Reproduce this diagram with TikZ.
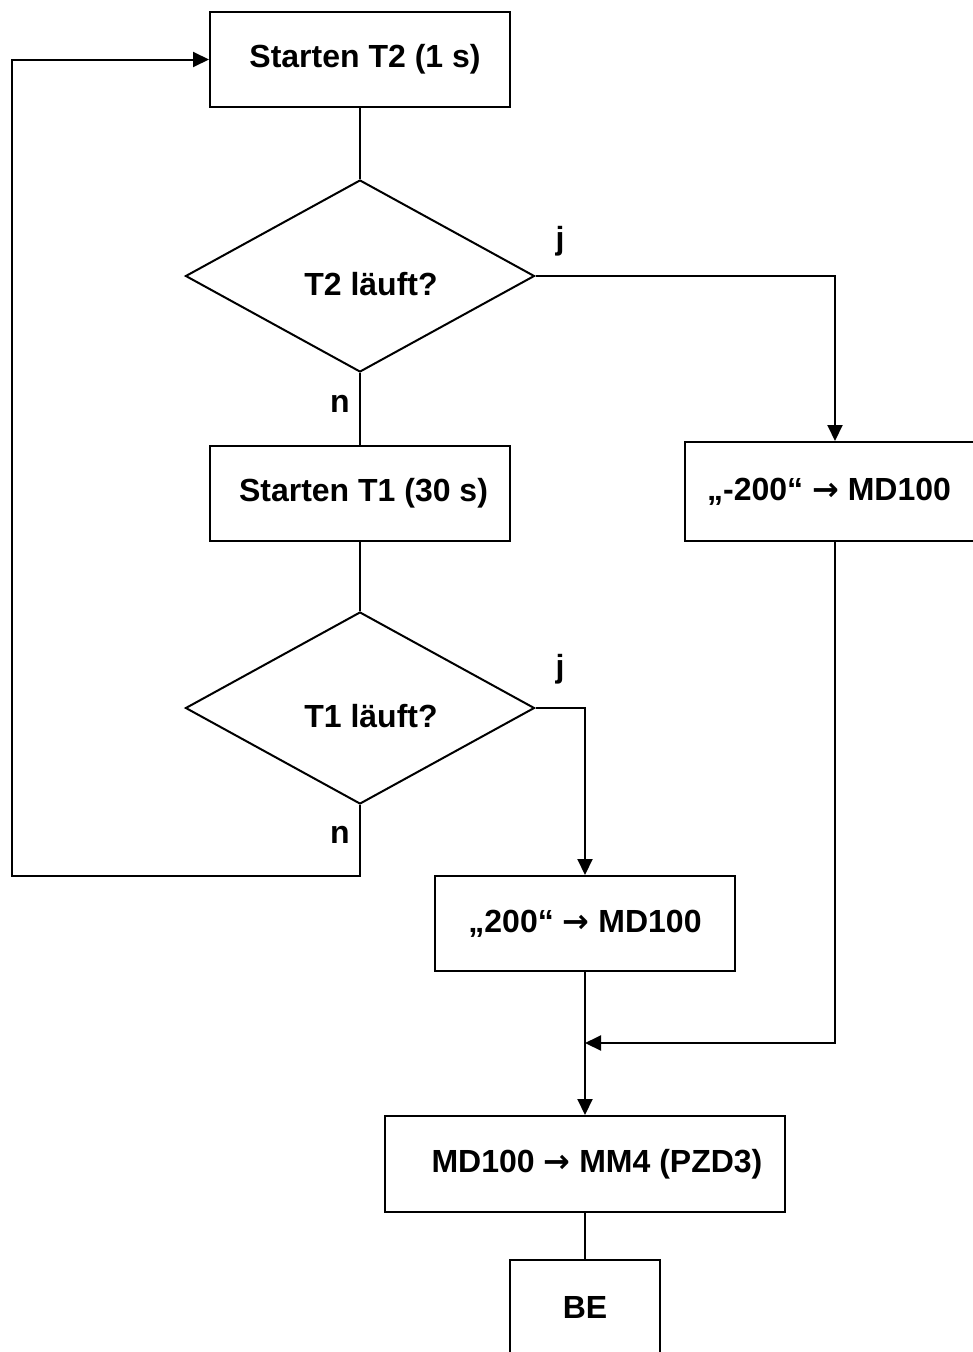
\documentclass[tikz,border=0pt]{standalone}
\usepackage{fontspec}
\setmainfont{Liberation Sans}
\newfontfamily\arrfont{DejaVu Sans}
\newcommand{\myarr}{{\arrfont\bfseries →}}
\usetikzlibrary{shapes.geometric,arrows.meta}
\begin{document}
\begin{tikzpicture}[x=1pt,y=-1pt,
  every node/.style={font=\fontsize{32}{38}\selectfont\bfseries},
  boxst/.style={draw,line width=2pt,minimum width=300pt,minimum height=95pt,inner sep=0pt},
  decst/.style={draw,diamond,line width=2pt,minimum width=349pt,minimum height=192pt,inner sep=0pt,aspect=1.82},
  lbl/.style={inner sep=0pt},
  conn/.style={line width=2pt},
  arr/.style={conn,-{Triangle[length=16pt,width=15pt]}}]
\useasboundingbox (0,0) rectangle (973,1352);
\fill[white] (0,0) rectangle (973,1352);
\node[boxst] (b1) at (360,59.5) {\hspace*{10pt}Starten T2 (1 s)};
\node[decst] (d1) at (360,276) {};
\node[lbl] (t1) at (371,284) {T2 läuft?};
\node[boxst] (b2) at (360,493) {\hspace*{7pt}Starten T1 (30 s)};
\node[boxst,minimum width=300pt,minimum height=99pt] (br) at (835,491.5) {„-200“ \myarr{} MD100\hspace*{12pt}};
\node[decst] (d2) at (360,708) {};
\node[lbl] (t2) at (371,716) {T1 läuft?};
\node[boxst] (b3) at (585,923.5) {„200“ \myarr{} MD100};
\node[boxst,minimum width=400pt,minimum height=96pt] (b4) at (585,1164) {\hspace*{24pt}MD100 \myarr{} MM4 (PZD3)};
\node[boxst,minimum width=150pt,minimum height=95pt] (b5) at (585,1307.5) {BE};
\node[lbl] (j1) at (560,241) {j};
\node[lbl] (j2) at (560,669) {j};
\node[lbl] (n1) at (340,404) {n};
\node[lbl] (n2) at (340,835) {n};
\coordinate (c4) at (12,876);
\coordinate (c6) at (835,1043);
\draw[conn] (b1.south) -- (d1.north);
\draw[arr] (d1.east) -| (br.north);
\draw[conn] (d1.south) -- (b2.north);
\draw[conn] (b2.south) -- (d2.north);
\draw[arr] (d2.east) -| (b3.north);
\draw[arr] (d2.south) |- (c4) |- (b1.west);
\draw[arr] (b3.south) -- (b4.north);
\draw[arr] (br.south) |- (b3.south |- c6);
\draw[conn] (b4.south) -- (b5.north);
\end{tikzpicture}
\end{document}
